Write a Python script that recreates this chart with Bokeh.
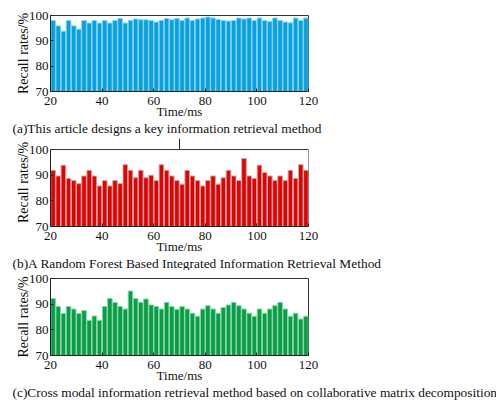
from bokeh.plotting import figure
from bokeh.layouts import column
from bokeh.models import FixedTicker, Range1d, Title
from bokeh.embed import file_html
from bokeh.resources import INLINE

time_ms = [21, 23, 25, 27, 29, 31, 33, 35, 37, 39, 41, 43, 45, 47, 49, 51, 53, 55, 57, 59,
           61, 63, 65, 67, 69, 71, 73, 75, 77, 79, 81, 83, 85, 87, 89, 91, 93, 95, 97, 99,
           101, 103, 105, 107, 109, 111, 113, 115, 117, 119]

recall_a = [98.0, 95.9, 93.8, 98.0, 95.9, 94.6, 98.0, 97.0, 98.0, 97.0,
            98.0, 97.0, 98.0, 98.8, 97.0, 98.0, 98.6, 98.3, 98.3, 98.0,
            97.4, 98.0, 98.8, 98.3, 98.8, 98.0, 99.0, 98.0, 98.6, 99.0,
            99.4, 99.0, 98.4, 98.0, 97.8, 98.0, 99.0, 98.6, 99.0, 98.0,
            99.0, 98.0, 97.6, 99.0, 98.0, 97.4, 97.1, 99.0, 98.0, 99.0]

recall_b = [91.9, 89.7, 93.9, 88.7, 87.9, 86.7, 89.7, 91.9, 89.7, 85.8,
            87.9, 85.8, 87.9, 86.7, 94.1, 91.9, 89.0, 91.9, 89.0, 90.0,
            87.9, 94.1, 91.9, 89.7, 87.9, 86.5, 91.9, 89.7, 87.9, 85.8,
            87.9, 89.7, 86.5, 89.0, 91.9, 89.7, 87.9, 96.5, 89.7, 88.7,
            93.9, 91.0, 89.7, 87.9, 89.7, 87.9, 91.9, 88.7, 94.1, 91.9]

recall_c = [92.2, 89.1, 86.4, 89.1, 88.1, 86.4, 87.5, 83.7, 85.4, 83.7,
            89.1, 92.2, 90.7, 89.1, 88.1, 95.1, 92.2, 90.7, 92.0, 89.7,
            89.1, 88.1, 90.7, 89.1, 88.0, 89.1, 88.1, 86.5, 85.3, 88.1,
            89.4, 88.1, 86.5, 88.7, 89.7, 90.7, 89.4, 88.1, 86.5, 85.3,
            88.1, 86.5, 88.1, 89.4, 90.7, 88.1, 85.3, 86.5, 84.2, 85.3]

x_ticks = [20, 40, 60, 80, 100, 120]
y_ticks = [70, 80, 90, 100]

captions = [
    "(a)This article designs a key information retrieval method",
    "(b)A Random Forest Based Integrated Information Retrieval Method",
    "(c)Cross modal information retrieval method based on collaborative matrix decomposition",
]

FONT = "Liberation Serif"
X_MIN, X_MAX = 20, 120
Y_MIN, Y_MAX = 70, 100
CONNECTOR_X = 70          # the short vertical connector above panel (b)
CONNECTOR_TOP = 104.3     # extends up towards the caption of panel (a)


def make_panel(values, fill, edge, caption, height, top, bottom, y_top=Y_MAX):
    p = figure(width=496, height=height, output_backend="svg", toolbar_location=None,
               x_range=Range1d(X_MIN, X_MAX), y_range=Range1d(Y_MIN, y_top),
               min_border_left=50, min_border_right=188,
               min_border_top=top, min_border_bottom=bottom,
               background_fill_color="white", border_fill_color="white")
    p.vbar(x=time_ms, top=values, bottom=Y_MIN, width=1.8,
           fill_color=fill, line_color=edge, line_width=1)
    p.grid.visible = False
    if y_top == Y_MAX:
        p.outline_line_color = "#333333"
        p.outline_line_width = 1
    else:
        p.outline_line_color = None
        # frame drawn as lines: top and right sides of the box
        p.line(x=[X_MIN, X_MAX, X_MAX], y=[Y_MAX, Y_MAX, Y_MIN],
               line_color="#333333", line_width=1)
        p.line(x=[CONNECTOR_X, CONNECTOR_X], y=[Y_MAX, CONNECTOR_TOP],
               line_color="#222222", line_width=1)
        p.yaxis.bounds = (Y_MIN, Y_MAX)
    for ax in (p.xaxis[0], p.yaxis[0]):
        ax.axis_line_color = "#222222"
        ax.major_tick_line_color = "#222222"
        ax.minor_tick_line_color = None
        ax.major_tick_in = 3
        ax.major_tick_out = 0
        ax.major_label_text_font = FONT
        ax.major_label_text_font_size = "13px"
        ax.major_label_text_color = "#111111"
        ax.axis_label_text_font = FONT
        ax.axis_label_text_font_style = "normal"
        ax.axis_label_text_color = "#111111"
    p.xaxis.axis_label_text_font_size = "13px"
    p.yaxis.axis_label_text_font_size = "14px"
    p.xaxis.ticker = FixedTicker(ticks=x_ticks)
    p.yaxis.ticker = FixedTicker(ticks=y_ticks)
    p.xaxis.axis_label = "Time/ms"
    p.yaxis.axis_label = "Recall rates/%"
    p.xaxis.major_label_standoff = 5
    p.xaxis.axis_label_standoff = -4
    p.yaxis.major_label_standoff = 2
    p.yaxis.axis_label_standoff = -5
    t = Title(text=caption, align="left", offset=-38, standoff=-5,
              text_font=FONT, text_font_size="13.4px", text_font_style="normal",
              text_color="#111111")
    p.add_layout(t, "below")
    return p


pa = make_panel(recall_a, "#08a0de", "#86d2f2", captions[0], 137, 15, 46)
pb = make_panel(recall_b, "#e60000", "#b8b0b0", captions[1], 133, 1, 44, y_top=CONNECTOR_TOP)
pc = make_panel(recall_c, "#0a9c46", "#8ed6a8", captions[2], 133, 8, 48)

layout = column(pa, pb, pc, spacing=0)
open("out.html", "w").write(file_html(layout, INLINE))
